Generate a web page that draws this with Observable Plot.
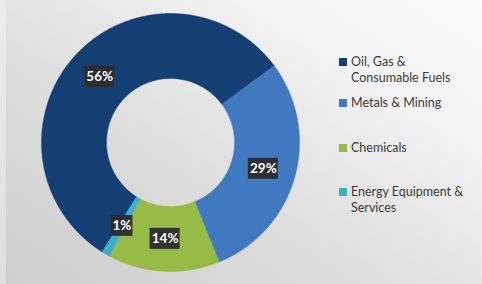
<!DOCTYPE html>
<html><head><meta charset="utf-8">
<script src="https://cdn.jsdelivr.net/npm/d3@7"></script>
<script src="https://cdn.jsdelivr.net/npm/@observablehq/plot@0.6"></script>
<style>
html,body{margin:0;padding:0;background:#fff;}
#wrap{position:relative;width:482px;height:284px;overflow:hidden;
 background:linear-gradient(32deg,#cdcdcd 0%,#dedede 40%,#f3f3f3 75%,#fbfbfb 100%);}
#strip{position:absolute;left:0;top:0;width:6px;height:284px;background:rgba(255,255,255,0.35);}
#chart{position:absolute;left:0;top:0;}
#legend{position:absolute;left:0;top:0;width:482px;height:284px;font-family:Lato,"Open Sans",sans-serif;font-size:12.5px;color:#3a3a3a;}
.item{position:absolute;left:339px;display:flex;align-items:flex-start;line-height:16px;white-space:nowrap;}
.sw{width:8px;height:8px;margin-top:4px;margin-right:4px;flex:none;}
</style></head>
<body><div id="wrap"><div id="strip"></div><div id="chart"></div><div id="legend"></div></div>
<script>
const categories = ["Oil, Gas & Consumable Fuels","Metals & Mining","Chemicals","Energy Equipment & Services"];
const legendLines = [["Oil, Gas &","Consumable Fuels"],["Metals & Mining"],["Chemicals"],["Energy Equipment &","Services"]];
const values = [56, 29, 14, 1];
const labels = ["56%","29%","14%","1%"];
const colors = ["#143f72","#4179c1","#98bb48","#3ab0cc"];

const W = 482, H = 284;
const cx = 170, cy = 142;      // donut centre in pixels
const R = 129, r = 64;          // outer / inner radius
const startDeg = 212;           // first slice start, clockwise from top

const total = d3.sum(values);
let acc = startDeg * Math.PI / 180;
const slices = values.map((v, i) => {
  const a0 = acc, a1 = acc + v / total * 2 * Math.PI;
  acc = a1;
  return {cat: categories[i], a0, a1, label: labels[i], i};
});

const ring = [];
for (const s of slices) {
  const n = Math.max(4, Math.ceil((s.a1 - s.a0) / 0.01));
  for (let k = 0; k <= n; k++) {
    const a = s.a0 + (s.a1 - s.a0) * k / n;
    ring.push({cat: s.cat, x: R * Math.sin(a), y: R * Math.cos(a)});
  }
  for (let k = n; k >= 0; k--) {
    const a = s.a0 + (s.a1 - s.a0) * k / n;
    ring.push({cat: s.cat, x: r * Math.sin(a), y: r * Math.cos(a)});
  }
}
const lr = (R + r) / 2;
const lab = slices.map(s => {
  const m = (s.a0 + s.a1) / 2;
  return {label: s.label, x: lr * Math.sin(m), y: lr * Math.cos(m), w: s.label.length * 8 + 6};
});

const plot = Plot.plot({
  width: W, height: H,
  margin: 0,
  x: {domain: [-cx, W - cx], axis: null},
  y: {domain: [-(H - cy), cy], axis: null},
  color: {domain: categories, range: colors},
  style: {background: "transparent"},
  marks: [
    Plot.line(ring, {x: "x", y: "y", z: "cat", fill: "cat", stroke: "cat", strokeWidth: 0.5, curve: "linear-closed"}),
    Plot.rect(lab, {x1: d => d.x - d.w / 2, x2: d => d.x + d.w / 2, y1: d => d.y - 10.5, y2: d => d.y + 10.5, fill: "#2b2b2b", fillOpacity: 0.95}),
    Plot.text(lab, {x: "x", y: "y", text: "label", fill: "white", fontSize: 13.5, fontWeight: "bold", fontFamily: "Lato, 'Open Sans', sans-serif"})
  ]
});
document.getElementById("chart").appendChild(plot);

const tops = [54, 95, 140, 184];
const leg = document.getElementById("legend");
legendLines.forEach((lines, i) => {
  const it = document.createElement("div");
  it.className = "item";
  it.style.top = tops[i] + "px";
  const sw = document.createElement("div");
  sw.className = "sw"; sw.style.background = colors[i];
  const tx = document.createElement("div");
  tx.innerHTML = lines.join("<br>");
  it.appendChild(sw); it.appendChild(tx);
  leg.appendChild(it);
});
</script></body></html>
